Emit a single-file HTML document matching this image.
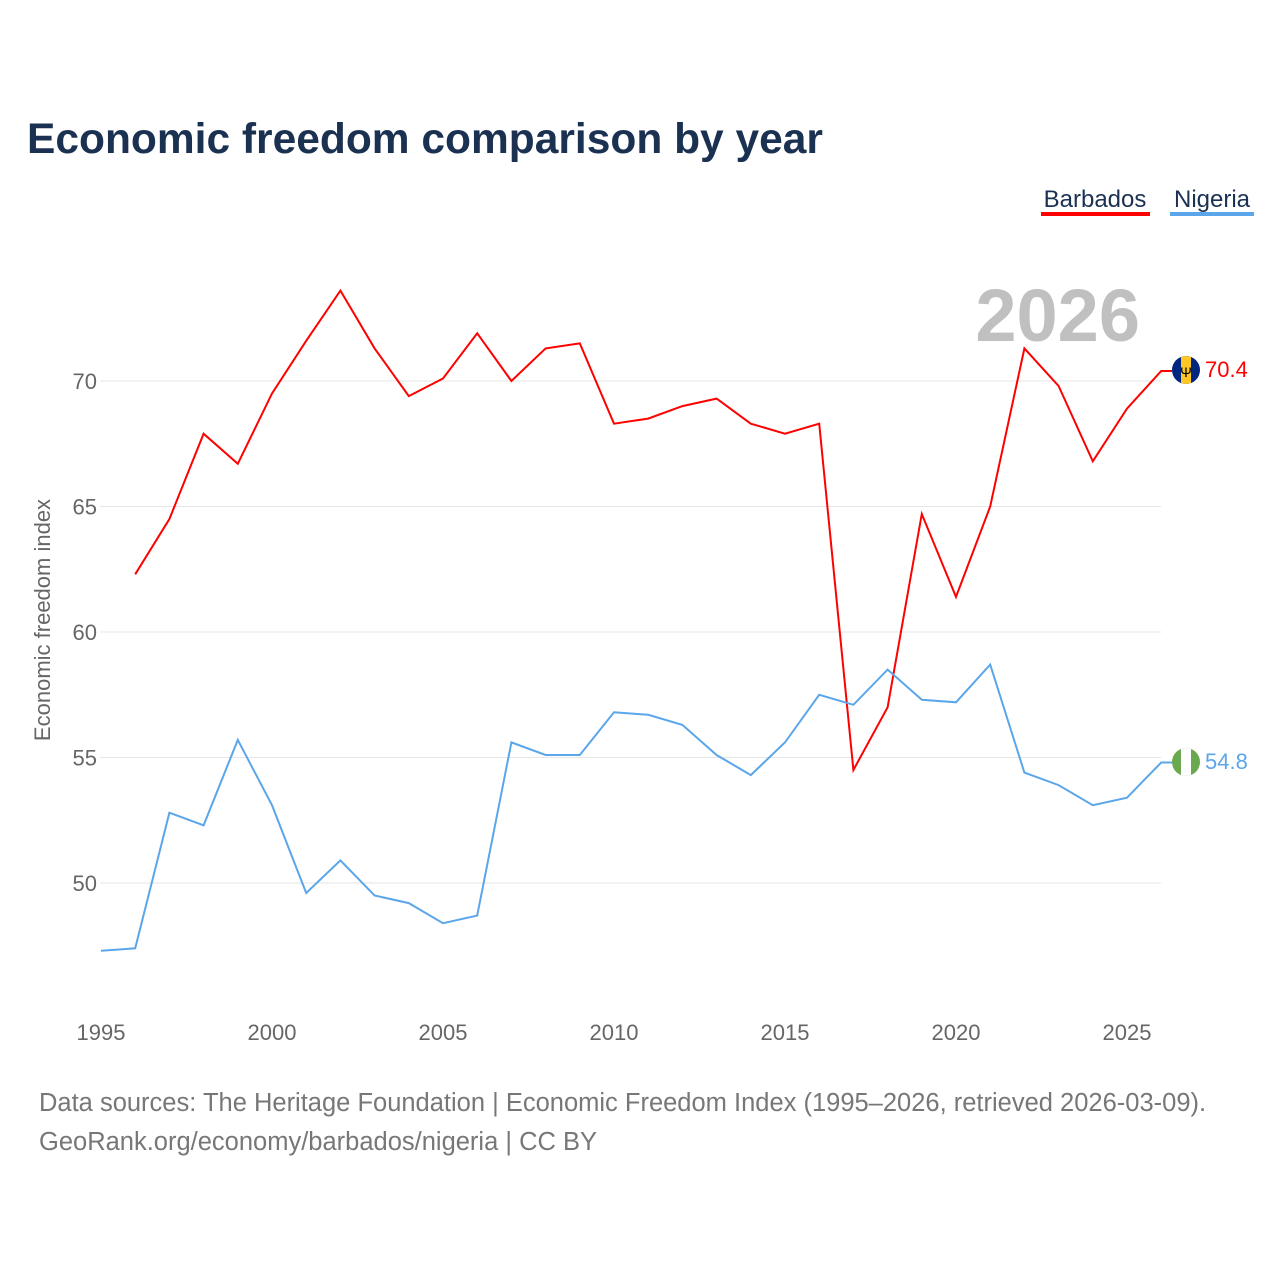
<!DOCTYPE html>
<html><head><meta charset="utf-8"><style>
body{margin:0;background:#fff;font-family:"Liberation Sans",sans-serif}
svg text{font-family:"Liberation Sans",sans-serif}
</style></head><body>
<svg width="1280" height="1280" viewBox="0 0 1280 1280" xmlns="http://www.w3.org/2000/svg">
<text x="27" y="153" font-size="42.5" font-weight="bold" fill="#1b3152">Economic freedom comparison by year</text>
<g><text x="1095" y="207" font-size="24" fill="#1b3152" text-anchor="middle">Barbados</text><rect x="1041" y="212" width="109" height="4" fill="#ff0000"/></g>
<g><text x="1212" y="207" font-size="24" fill="#1b3152" text-anchor="middle">Nigeria</text><rect x="1170" y="212" width="84" height="4" fill="#5ba6ea"/></g>
<text x="1140" y="341" font-size="74" font-weight="bold" fill="#c0c0c0" text-anchor="end">2026</text>
<g id="grid"></g><g id="xt"></g><g id="lines"></g>
<text transform="translate(50,620) rotate(-90)" font-size="22" fill="#666" text-anchor="middle">Economic freedom index</text>
<g><clipPath id="cb"><circle cx="1186" cy="370" r="14"/></clipPath><g clip-path="url(#cb)"><rect x="1172" y="356" width="28" height="28" fill="#00267f"/><rect x="1181" y="356" width="10" height="28" fill="#ffc726"/></g><text x="1186" y="377" font-size="14" text-anchor="middle" fill="#000">Ψ</text></g>
<g><clipPath id="cn"><circle cx="1186" cy="762" r="14"/></clipPath><g clip-path="url(#cn)"><rect x="1172" y="748" width="28" height="28" fill="#6aa84f"/><rect x="1181" y="748" width="10" height="28" fill="#fff"/></g></g>
<text x="1205" y="377" font-size="22" fill="#ff0000">70.4</text>
<text x="1205" y="769" font-size="22" fill="#5ba6ea">54.8</text>
<text x="39" y="1111" font-size="25.5" fill="#777">Data sources: The Heritage Foundation | Economic Freedom Index (1995–2026, retrieved 2026-03-09).</text>
<text x="39" y="1150" font-size="25.5" fill="#777">GeoRank.org/economy/barbados/nigeria | CC BY</text>
</svg>
<script>
const years=[];for(let y=1995;y<=2026;y++)years.push(y);
const barbados=[null,62.3,64.5,67.9,66.7,69.5,71.6,73.6,71.3,69.4,70.1,71.9,70.0,71.3,71.5,68.3,68.5,69.0,69.3,68.3,67.9,68.3,54.5,57.0,64.7,61.4,65.0,71.3,69.8,66.8,68.9,70.4];
const nigeria=[47.3,47.4,52.8,52.3,55.7,53.1,49.6,50.9,49.5,49.2,48.4,48.7,55.6,55.1,55.1,56.8,56.7,56.3,55.1,54.3,55.6,57.5,57.1,58.5,57.3,57.2,58.7,54.4,53.9,53.1,53.4,54.8];
const yTicks=[50,55,60,65,70];
const xTicks=[1995,2000,2005,2010,2015,2020,2025];
const NS="http://www.w3.org/2000/svg";
const X=y=>101+(y-1995)*34.2, Y=v=>883-(v-50)*25.1;
function mk(t,a,p){const e=document.createElementNS(NS,t);for(const k in a)e.setAttribute(k,a[k]);document.getElementById(p).appendChild(e);return e;}
yTicks.forEach(v=>{
const l=mk('line',{x1:100,x2:1161,y1:Y(v),y2:Y(v),stroke:'#e6e6e6','stroke-width':1},'grid');


const t=mk('text',{x:97,y:Y(v)+8,'font-size':22,fill:'#666','text-anchor':'end'},'grid');t.textContent=v;


});
xTicks.forEach(y=>{
const t=mk('text',{x:X(y),y:1040,'font-size':22,fill:'#666','text-anchor':'middle'},'xt');t.textContent=y;


});
[[barbados,'#ff0000','barbados'],[nigeria,'#5ba6ea','nigeria']].forEach(([d,c,n])=>{
let s='';d.forEach((v,i)=>{if(v==null)return;s+=(s?'L':'M')+X(years[i]).toFixed(1)+' '+Y(v).toFixed(1);});
s+='L1172 '+Y(d[d.length-1]).toFixed(1);
const p=mk('path',{d:s,fill:'none',stroke:c,'stroke-width':2},'lines');


});
</script>
</body></html>
